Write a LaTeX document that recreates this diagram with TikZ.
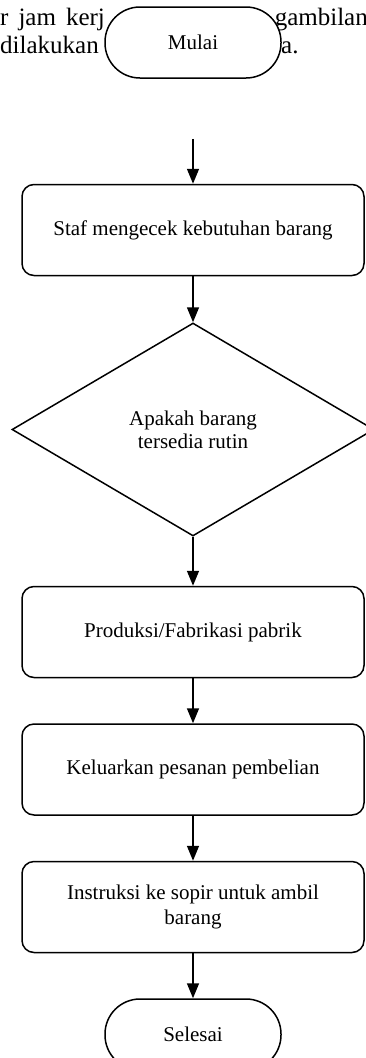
\documentclass[tikz,border=0pt]{standalone}
\usepackage{fontspec}
\setmainfont{Liberation Serif}
\usetikzlibrary{arrows.meta, positioning, shapes.geometric}
\tikzset{
  box/.style={rectangle,draw,rounded corners=12pt,align=center,fill=white,line width=1.5pt,minimum width=342pt,minimum height=91pt,font=\fontsize{21}{25}\selectfont},
  terminal/.style={rectangle,draw,rounded corners=35pt,align=center,fill=white,line width=1.5pt,minimum width=176pt,minimum height=71pt,font=\fontsize{21}{25}\selectfont},
  decision/.style={diamond,draw,align=center,fill=white,line width=1.5pt,inner sep=0pt,minimum width=362pt,minimum height=213pt,font=\fontsize{21}{23}\selectfont},
  line/.style={-{Triangle[width=12pt,length=15pt]},line width=1.5pt},
  pagetext/.style={inner sep=0pt,font=\fontsize{25}{28}\selectfont}
}

\begin{document}
\begin{tikzpicture}
\useasboundingbox (0pt,0pt) rectangle (366pt,-1058pt);
% page text behind the start node
\node[pagetext, anchor=base west] (txtaa) at (0pt,-25pt) {\spaceskip=10pt r jam kerj};
\node[pagetext, anchor=base east] (txtab) at (368pt,-25pt) {gambilan};
\node[pagetext, anchor=base west] (txtba) at (0pt,-53pt) {dilakukan};
\node[pagetext, anchor=base west] (txtbb) at (281pt,-53pt) {a.};
% flow
\node[terminal] (mulai) at (193pt,-42.5pt) {Mulai};
\coordinate[below=60pt of mulai] (masuk);
\node[box, below=105pt of mulai] (cek) {Staf mengecek kebutuhan barang};
\node[decision, below=46pt of cek] (tersedia) {Apakah barang\\tersedia rutin};
\node[box, below=49pt of tersedia] (produksi) {Produksi/Fabrikasi pabrik};
\node[box, below=45pt of produksi] (pesanan) {Keluarkan pesanan pembelian};
\node[box, below=45pt of pesanan] (sopir) {Instruksi ke sopir untuk ambil\\barang};
\node[terminal, below=45pt of sopir] (selesai) {Selesai};
\draw[line] (masuk) -- (cek);
\draw[line] (cek) -- (tersedia);
\draw[line] (tersedia) -- (produksi);
\draw[line] (produksi) -- (pesanan);
\draw[line] (pesanan) -- (sopir);
\draw[line] (sopir) -- (selesai);
\end{tikzpicture}
\end{document}
